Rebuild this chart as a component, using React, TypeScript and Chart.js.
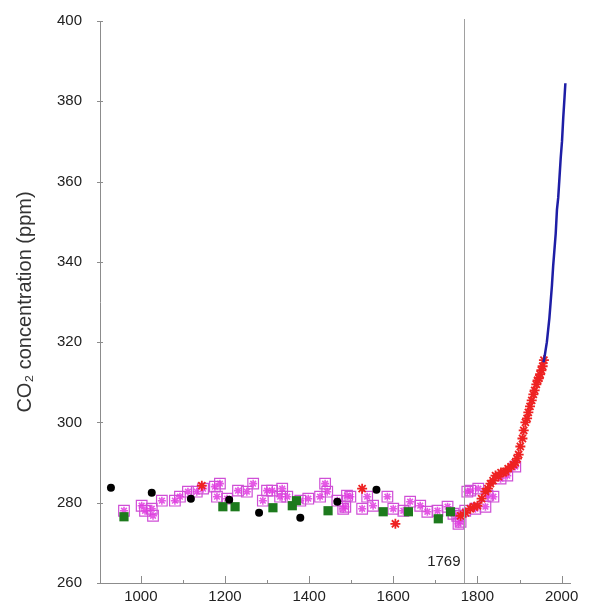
import React, { useEffect, useRef } from "react";
import { Chart, registerables } from "chart.js";

Chart.register(...registerables);

// ---- Data ----
const X_TICKS = [1000, 1200, 1400, 1600, 1800, 2000];
const X_MINOR = [1100, 1300, 1500, 1700, 1900];
const Y_TICKS = [260, 280, 300, 320, 340, 360, 380, 400];
const MARK_YEAR = 1769;

const blackYears = [929, 1026, 1119, 1210, 1281, 1379, 1467, 1560];
const blackPpm = [283.75, 282.5, 281, 280.75, 277.5, 276.25, 280.25, 283.25];

const greenYears = [960, 1195, 1224, 1314, 1360, 1370, 1445, 1576, 1636, 1707, 1736];
const greenPpm = [276.5, 279, 279, 278.75, 279.25, 280.5, 278, 277.75, 277.75, 276, 277.75];

const magentaYears = [960, 1002, 1010, 1026, 1029, 1050, 1081, 1093, 1112, 1133, 1148, 1176, 1181, 1188, 1205, 1231, 1252, 1267, 1290, 1300, 1312, 1331, 1336, 1348, 1379, 1398, 1426, 1438, 1443, 1467, 1481, 1486, 1490, 1498, 1526, 1538, 1552, 1586, 1600, 1624, 1640, 1664, 1681, 1705, 1729, 1743, 1752, 1755, 1760, 1771, 1776, 1783, 1795, 1802, 1819, 1824, 1838, 1855, 1871, 1890];
const magentaPpm = [278, 279.25, 278, 278.5, 276.75, 280.5, 280.5, 281.5, 282.75, 282.75, 283.5, 284, 281.5, 284.75, 281, 283, 282.75, 284.75, 280.5, 283, 283, 281.5, 283.5, 281.5, 280.5, 281, 281.5, 284.75, 282.75, 280.5, 278.5, 279, 281.75, 281.5, 278.5, 281.5, 279.25, 281.5, 278.5, 278, 280.25, 279.25, 277.75, 278, 279, 277.25, 276.75, 274.75, 275.25, 278, 282.75, 283, 278.5, 283.5, 279, 281.75, 281.5, 286, 286.75, 289];

const redYears = [1145, 1526, 1605, 1760, 1772, 1783, 1792, 1800, 1810, 1819, 1825, 1831, 1837, 1843, 1850, 1856, 1862, 1867, 1873, 1880, 1886, 1890, 1894, 1898, 1902, 1907, 1910, 1914, 1918, 1921, 1925, 1929, 1933, 1936, 1940, 1943, 1946, 1949, 1952, 1955, 1958];
const redPpm = [284.25, 283.5, 274.75, 276.75, 277.5, 278.5, 279, 279.25, 281, 282.75, 283.5, 284.75, 285.5, 286.75, 286.5, 287.5, 287.5, 287.75, 288.5, 289, 289.5, 290, 291, 292, 294, 296, 298, 300, 301, 302.5, 304, 305.5, 307, 308, 309.5, 310.5, 311, 312, 313, 314, 315.5];

const blueYears = [1957, 1959, 1962, 1965, 1968, 1971, 1974, 1977, 1980, 1983, 1986, 1989, 1992, 1995, 1998, 2001, 2004, 2007, 2009];
const bluePpm = [315, 316, 318, 320, 323, 326, 330, 334, 339, 343, 347, 353, 356, 361, 366, 370, 376, 381, 384.5];

const pts = (xs: number[], ys: number[]) => xs.map((x, i) => ({ x, y: ys[i] }));

const FONT = "'Liberation Sans', Arial, sans-serif";
const AXIS_COLOR = "#8c8c8c";
const CANVAS_H = 616;
const SHIFT = -6;

const overlayPlugin = {
  id: "overlay",
  afterDatasetsDraw(chart: any) {
    const { ctx, chartArea, scales } = chart;
    const xs = scales.x;
    const ys = scales.y;
    ctx.save();
    const mx = Math.round(xs.getPixelForValue(MARK_YEAR)) + 0.5;
    ctx.strokeStyle = "#a0a0a0";
    ctx.lineWidth = 1;
    ctx.beginPath();
    ctx.moveTo(mx, chartArea.top - 2);
    ctx.lineTo(mx, chartArea.bottom);
    ctx.stroke();
    ctx.fillStyle = "#222";
    ctx.font = `15px ${FONT}`;
    ctx.textAlign = "right";
    ctx.textBaseline = "middle";
    ctx.fillText(String(MARK_YEAR), mx - 4, ys.getPixelForValue(265.3));
    ctx.strokeStyle = AXIS_COLOR;
    ctx.lineWidth = 1;
    const by = chartArea.bottom;
    X_TICKS.forEach((v) => {
      const px = Math.round(xs.getPixelForValue(v)) + 0.5;
      ctx.beginPath();
      ctx.moveTo(px, by + 1);
      ctx.lineTo(px, by - 7);
      ctx.stroke();
    });
    X_MINOR.forEach((v) => {
      const px = Math.round(xs.getPixelForValue(v)) + 0.5;
      ctx.beginPath();
      ctx.moveTo(px, by);
      ctx.lineTo(px, by - 3);
      ctx.stroke();
    });
    const lx = chartArea.left;
    Y_TICKS.forEach((v) => {
      const py = Math.round(ys.getPixelForValue(v)) + 0.5;
      ctx.beginPath();
      ctx.moveTo(lx - 3, py);
      ctx.lineTo(lx + 3, py);
      ctx.stroke();
    });
    ctx.restore();
  },
};

export default function App() {
  const ref = useRef<HTMLCanvasElement | null>(null);
  useEffect(() => {
    if (!ref.current) return;
    const chart = new Chart(ref.current, {
      type: "scatter",
      data: {
        datasets: [
          {
            label: "black",
            data: pts(blackYears, blackPpm),
            pointStyle: "circle",
            pointRadius: 4,
            backgroundColor: "#000",
            borderColor: "#000",
            borderWidth: 0,
          },
          {
            label: "green",
            data: pts(greenYears, greenPpm),
            pointStyle: "rect",
            pointRadius: 6.5,
            backgroundColor: "#1d7a1d",
            borderColor: "#1d7a1d",
            borderWidth: 0,
          },
          {
            label: "blue",
            type: "line",
            data: pts(blueYears, bluePpm),
            borderColor: "#1e1ea6",
            borderWidth: 2.5,
            pointRadius: 0,
            showLine: true,
            tension: 0,
          } as any,
          {
            label: "red",
            data: pts(redYears, redPpm),
            pointStyle: "star",
            pointRadius: 5,
            borderColor: "#ee2222",
            backgroundColor: "#ee2222",
            borderWidth: 1.8,
          },
          {
            label: "magentaStar",
            data: pts(magentaYears, magentaPpm),
            pointStyle: "star",
            pointRadius: 4,
            borderColor: "rgba(225,60,225,0.85)",
            borderWidth: 1.6,
          },
          {
            label: "magentaSquare",
            data: pts(magentaYears, magentaPpm),
            pointStyle: "rect",
            pointRadius: 7.5,
            backgroundColor: "rgba(255,255,255,0)",
            borderColor: "#cf4fd6",
            borderWidth: 1.2,
          },
        ],
      },
      options: {
        animation: false,
        responsive: false,
        devicePixelRatio: 1,
        layout: { padding: { top: 11, right: 21, left: 0, bottom: 0 } },
        plugins: { legend: { display: false }, tooltip: { enabled: false } },
        scales: {
          x: {
            type: "linear",
            min: 903,
            max: 2020,
            grid: { display: false, drawTicks: false },
            border: { display: true, color: AXIS_COLOR, width: 1 },
            afterBuildTicks: (s: any) => {
              s.ticks = X_TICKS.map((v) => ({ value: v }));
            },
            afterFit: (s: any) => {
              s.height = 26;
            },
            ticks: {
              color: "#222",
              font: { family: FONT, size: 15 },
              padding: 5,
              maxRotation: 0,
              autoSkip: false,
              callback: (v: any) => String(v),
            },
          },
          y: {
            type: "linear",
            min: 260,
            max: 400,
            grid: { display: false, drawTicks: false },
            border: { display: true, color: AXIS_COLOR, width: 1 },
            afterBuildTicks: (s: any) => {
              s.ticks = Y_TICKS.map((v) => ({ value: v }));
            },
            afterFit: (s: any) => {
              s.width = 100;
            },
            ticks: {
              color: "#222",
              font: { family: FONT, size: 15 },
              padding: 18,
              autoSkip: false,
              callback: (v: any) => String(v),
            },
            title: {
              display: true,
              text: "CO₂ concentration (ppm)",
              color: "#333",
              font: { family: FONT, size: 20 },
              padding: { top: 13, bottom: 4 },
            },
          },
        },
      },
      plugins: [overlayPlugin],
    });
    return () => chart.destroy();
  }, []);
  return (
    <div style={{ position: "fixed", left: 0, top: 0, width: 591, height: 610, background: "#fff", overflow: "hidden" }}>
      <canvas
        ref={ref}
        width={591}
        height={CANVAS_H}
        style={{ width: 591, height: CANVAS_H, display: "block", marginTop: SHIFT }}
      />
    </div>
  );
}
